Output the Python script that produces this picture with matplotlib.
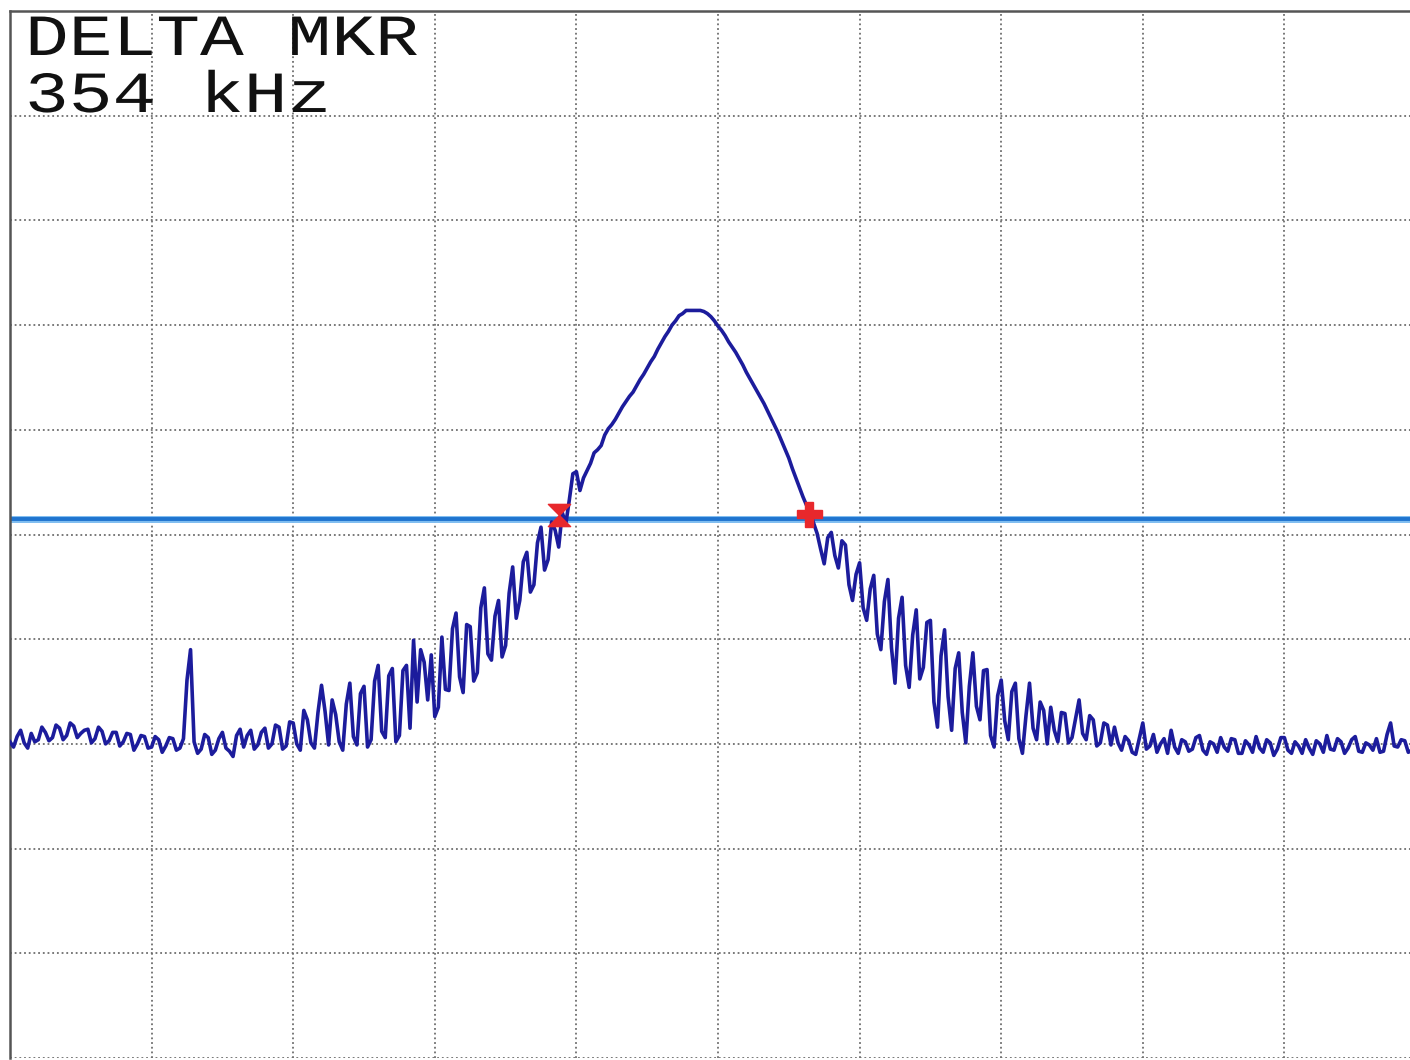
import numpy as np
import matplotlib
matplotlib.use("Agg")
import matplotlib.pyplot as plt
from matplotlib.path import Path
from matplotlib.transforms import Affine2D
from matplotlib import patheffects

# trace levels in dB (10 dB/div, ref 0 dB), one per sweep point, 2000 kHz span
level_db = [
    # noise floor, left
    -69.8, -70.3, -69.3, -68.7, -69.9, -70.4, -69.0, -69.8, -69.6, -68.4,
    -68.9, -69.7, -69.4, -68.2, -68.5, -69.6, -69.2, -68.0, -68.3, -69.4,
    -69.0, -68.7, -68.6, -69.9, -69.5, -68.4, -68.8, -70.0, -69.7, -68.9,
    -68.9, -70.2, -69.8, -69.0, -69.1, -70.6, -70.0, -69.2, -69.3, -70.4,
    -70.3, -69.3, -69.6, -70.8, -70.2, -69.4, -69.5, -70.6, -70.4, -69.5,
    -63.9, -61.0, -69.8, -70.9, -70.5, -69.1, -69.4, -71.0, -70.6, -69.5,
    -68.9, -70.4, -70.7, -71.2, -69.2, -68.6, -70.3, -69.2, -68.7, -70.5,
    -70.1, -68.9, -68.5, -70.4, -70.0, -68.2, -68.4, -70.5, -70.2, -67.9,
    -68.0, -70.0,
    # rising noisy skirt
    -70.6, -66.8, -67.7, -69.9, -70.4, -67.0, -64.4, -66.9, -70.1, -65.8,
    -67.2, -69.8, -70.6, -66.2, -64.2, -69.3, -70.1, -65.2, -64.5, -70.3,
    -69.6, -64.0, -62.5, -68.8, -69.4, -63.5, -62.8, -69.8, -69.2, -63.0,
    -62.5, -68.5, -60.1, -66.0, -61.0, -62.2, -65.8, -61.5, -67.4, -66.5,
    -59.8, -64.8, -64.9, -59.0, -57.5, -63.6, -65.1, -58.6, -58.8, -64.0,
    -63.2, -57.0, -55.1, -61.4, -62.0, -57.8, -56.3, -61.7, -60.6, -55.6,
    -53.1, -58.0, -56.3, -52.6, -51.7, -55.5, -54.8, -50.8, -49.3, -53.4,
    -52.4, -48.8, -49.6, -51.2, -47.9, -49.0, -46.7, -44.2, -44.0, -45.8,
    -44.6, -43.9,
    # main lobe
    -43.2, -42.2, -41.9, -41.5, -40.5, -39.9, -39.5, -39.0, -38.4, -37.8,
    -37.3, -36.8, -36.4, -35.8, -35.2, -34.7, -34.1, -33.5, -33.0, -32.3,
    -31.7, -31.1, -30.6, -30.0, -29.6, -29.1, -28.9, -28.6, -28.6, -28.6,
    -28.6, -28.6, -28.7, -28.9, -29.2, -29.6, -30.1, -30.5, -31.0, -31.6,
    -32.1, -32.6, -33.2, -33.8, -34.5, -35.1, -35.7, -36.3, -36.9, -37.5,
    -38.2, -38.9, -39.6, -40.3, -41.1, -41.9, -42.7, -43.7, -44.6, -45.5,
    -46.4, -47.2, -47.9, -48.9,
    # falling noisy skirt
    -49.9, -51.4, -52.8, -50.3, -49.8, -52.0, -53.2, -50.6, -51.0, -54.8,
    -56.3, -53.8, -52.7, -57.0, -58.2, -55.2, -53.9, -59.5, -61.0, -56.4,
    -54.3, -60.8, -64.2, -58.0, -56.0, -62.5, -64.6, -59.6, -57.2, -63.8,
    -62.7, -58.4, -58.2, -66.0, -68.4, -61.6, -59.1, -65.5, -68.7, -62.8,
    -61.3, -67.0, -69.9, -64.5, -61.3, -66.4, -67.7, -63.0, -62.9, -69.2,
    -70.3, -65.4, -63.9, -67.8, -69.6, -65.0, -64.2, -69.5, -70.9, -67.3,
    -64.2, -68.5, -69.6, -66.0, -66.8, -70.0, -66.5, -68.7, -69.8, -67.0,
    -67.1, -69.9, -69.4, -67.6, -65.8, -69.0, -69.6, -67.3, -67.7, -70.2,
    -69.9, -68.0, -68.2, -70.1,
    # noise floor, right
    -68.4, -69.9, -70.6, -69.3, -69.7, -70.8, -71.0, -69.5, -68.0, -70.5,
    -70.2, -69.1, -70.8, -70.0, -69.5, -70.9, -68.7, -70.3, -70.9, -69.6,
    -69.8, -70.7, -70.5, -69.4, -69.2, -70.6, -71.0, -69.8, -70.0, -70.8,
    -69.4, -70.3, -70.7, -69.5, -69.6, -70.9, -70.9, -69.7, -70.1, -70.8,
    -69.3, -70.4, -70.8, -69.6, -69.9, -71.1, -70.5, -69.4, -69.4, -70.6,
    -70.9, -69.8, -70.2, -70.9, -69.6, -70.4, -71.0, -69.7, -70.0, -70.8,
    -69.2, -70.5, -70.6, -69.5, -69.8, -70.9, -70.4, -69.6, -69.3, -70.7,
    -70.8, -69.9, -70.1, -70.6, -69.5, -70.8, -70.7, -69.1, -68.0, -70.2,
    -70.3, -69.6, -69.7, -70.8, -70.6, -69.8, -69.9, -70.5, -70.4,
]

span_khz = [-1000, 1000]
freq_khz = np.linspace(span_khz[0], span_khz[1], len(level_db))

threshold_db = -48.5
marker_freq = [-225, 129]
marker_level = [-48.1, -48.0]
delta_text = ["DELTA MKR", "354 kHz"]


# the analyzer font is much wider than any installed mono font:
# stretch glyphs horizontally while keeping the text a normal Text artist
class WideText(patheffects.AbstractPathEffect):
    def __init__(self, sx):
        super().__init__()
        self.sx = sx

    def draw_path(self, renderer, gc, tpath, affine, rgbFace=None):
        renderer.draw_path(gc, tpath, Affine2D().scale(self.sx, 1) + affine, rgbFace)


# hourglass shaped marker for the reference marker
hourglass = Path([(-1, 1), (1, 1), (0, 0), (1, -1), (-1, -1), (0, 0), (-1, 1)],
                 [Path.MOVETO, Path.LINETO, Path.LINETO, Path.LINETO,
                  Path.LINETO, Path.LINETO, Path.CLOSEPOLY])

fig = plt.figure(figsize=(14.1, 10.6), dpi=100)
ax = fig.add_axes([10 / 1410, 2 / 1060, 1416 / 1410, 1047 / 1060])
ax.set_xlim(span_khz)
ax.set_ylim(-100, 0)

# dotted graticule
ax.set_xticks(np.arange(-1000, 1001, 200))
ax.set_yticks(np.arange(-100, 1, 10))
ax.grid(True, color="#6e6e6e", linestyle=(0, (1, 1.6)), linewidth=1.3)
ax.tick_params(length=0, labelbottom=False, labelleft=False)
for side in ["left", "top"]:
    ax.spines[side].set_color("#555555")
    ax.spines[side].set_linewidth(1.8)
ax.spines["bottom"].set_visible(False)
ax.spines["right"].set_visible(False)

ax.axhline(threshold_db, color="#7fbdf0", linewidth=5.0, zorder=2)
ax.axhline(threshold_db, color="#1f74cf", linewidth=2.8, zorder=2)

ax.plot(freq_khz, level_db, color="#1c1c9c", linewidth=2.6, zorder=3)

ax.plot(marker_freq[0], marker_level[0], marker=hourglass, markersize=16,
        color="#e8282c", linestyle="none", zorder=4)
ax.plot(marker_freq[1], marker_level[1], marker="P", markersize=18,
        color="#e8282c", linestyle="none", zorder=4)

wide = [WideText(1.25)]
ax.text(15 / 1416, 1 - 44 / 1047, delta_text[0], transform=ax.transAxes,
        family="Liberation Mono", fontsize=42, va="baseline", ha="left",
        color="#111111", path_effects=wide)
ax.text(15 / 1416, 1 - 101 / 1047, delta_text[1], transform=ax.transAxes,
        family="Liberation Mono", fontsize=42, va="baseline", ha="left",
        color="#111111", path_effects=wide)

fig.savefig("out.png", dpi=100)
